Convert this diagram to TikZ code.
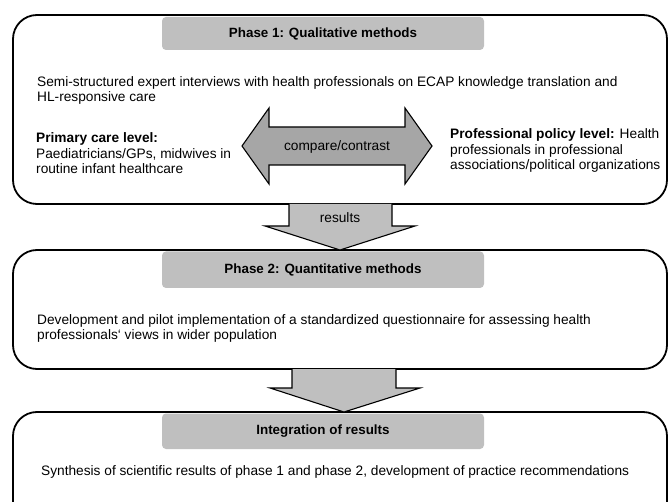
\documentclass[tikz,border=0pt]{standalone}
\usepackage{fontspec}
\setmainfont{Liberation Sans}
\definecolor{hdrgray}{HTML}{BFBFBF}
\definecolor{arrgray}{HTML}{A6A6A6}
\begin{document}
\begin{tikzpicture}[x=1pt,y=-1pt,font=\fontsize{13.7}{15.5}\selectfont]
\tikzset{
  frame/.style={draw=black,line width=1.8pt,rounded corners=24pt},
  header/.style={fill=hdrgray,rounded corners=4pt,minimum width=322pt,inner sep=0pt,
    font=\fontsize{13.4}{15.5}\selectfont\bfseries},
  body/.style={anchor=west,align=left,inner sep=0pt},
  bigarrow/.style={draw=black,line width=1.1pt,line join=miter},
}
\useasboundingbox (0,0) rectangle (669,502);
\clip (0,0) rectangle (669,502);
% frames
\draw[frame] (13,15) rectangle (667,204);
\draw[frame] (13,250) rectangle (667,369);
\draw[frame] (13,412) rectangle (667,540);
\coordinate (f1b) at (340,204);
\coordinate (f2t) at (340,250);
\coordinate (f2b) at (344,369);
\coordinate (f3t) at (344,412);
% headers
\node[header,minimum height=33pt] (h1) at (323,33.5) {Phase 1: Qualitative methods};
\node[header,minimum height=36.5pt] (h2) at (323,269.75) {Phase 2: Quantitative methods};
\node[header,minimum height=35.5pt] (h3) at (323,431.25) {Integration of results};
% phase 1 texts
\node[body] (t1) at (37,90.5) {Semi-structured expert interviews with health professionals on ECAP knowledge translation and\\HL-responsive care};
\node[body] (pc) at (36,153.5) {\textbf{Primary care level:}\\Paediatricians/GPs, midwives in\\routine infant healthcare};
\node[body] (pp) at (450,150.5) {\textbf{Professional policy level:} Health\\professionals in professional\\associations/political organizations};
% double arrow
\draw[bigarrow,fill=arrgray] (242,146) -- (269,108) -- (269,127) -- (405,127) -- (405,108)
  -- (432,146) -- (405,184) -- (405,165) -- (269,165) -- (269,184) -- cycle;
\node[inner sep=0pt] (cc) at (337,147) {compare/contrast};
% results arrow
\fill[hdrgray] ([xshift=-51pt]f1b) -- ([xshift=-51pt,yshift=-22pt]f1b) -- ([xshift=-75pt,yshift=-22pt]f1b)
  -- (f2t) -- ([xshift=75pt,yshift=-22pt]f1b) -- ([xshift=52pt,yshift=-22pt]f1b) -- ([xshift=52pt]f1b) -- cycle;
\draw[bigarrow] ([xshift=-51pt]f1b) -- ([xshift=-51pt,yshift=-22pt]f1b) -- ([xshift=-75pt,yshift=-22pt]f1b)
  -- (f2t) -- ([xshift=75pt,yshift=-22pt]f1b) -- ([xshift=52pt,yshift=-22pt]f1b) -- ([xshift=52pt]f1b);
\node[inner sep=0pt] (res) at (340,218) {results};
% second arrow
\fill[hdrgray] ([xshift=-52pt]f2b) -- ([xshift=-52pt,yshift=-19pt]f2b) -- ([xshift=-74pt,yshift=-19pt]f2b)
  -- (f3t) -- ([xshift=76pt,yshift=-19pt]f2b) -- ([xshift=52pt,yshift=-19pt]f2b) -- ([xshift=52pt]f2b) -- cycle;
\draw[bigarrow] ([xshift=-52pt]f2b) -- ([xshift=-52pt,yshift=-19pt]f2b) -- ([xshift=-74pt,yshift=-19pt]f2b)
  -- (f3t) -- ([xshift=76pt,yshift=-19pt]f2b) -- ([xshift=52pt,yshift=-19pt]f2b) -- ([xshift=52pt]f2b);
% phase 2 and integration texts
\node[body] (t2) at (37,328.5) {Development and pilot implementation of a standardized questionnaire for assessing health\\professionals‘ views in wider population};
\node[body] (t3) at (41,472) {Synthesis of scientific results of phase 1 and phase 2, development of practice recommendations};
\end{tikzpicture}
\end{document}
